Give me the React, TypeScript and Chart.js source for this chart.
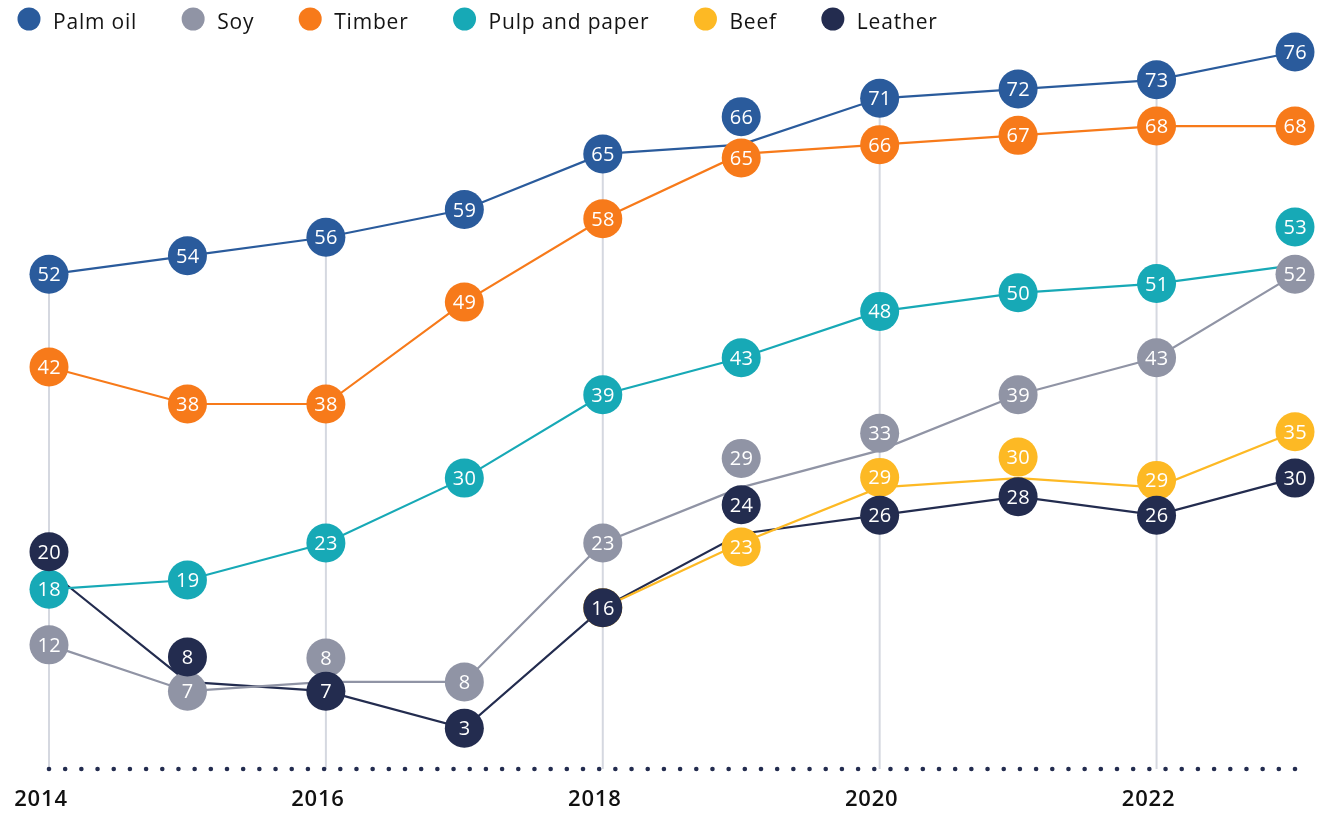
import React, { useEffect, useRef } from 'react';
import { Chart, registerables } from 'chart.js';

Chart.register(...registerables);

// ---------- data ----------
const years = ['2014', '2015', '2016', '2017', '2018', '2019', '2020', '2021', '2022', '2023'];
const yearTicks = ['2014', '2016', '2018', '2020', '2022'];
const seriesNames = ['Palm oil', 'Soy', 'Timber', 'Pulp and paper', 'Beef', 'Leather'];
const palmOil = [52, 54, 56, 59, 65, 66, 71, 72, 73, 76];
const soy = [12, 7, 8, 8, 23, 29, 33, 39, 43, 52];
const timber = [42, 38, 38, 49, 58, 65, 66, 67, 68, 68];
const pulpAndPaper = [18, 19, 23, 30, 39, 43, 48, 50, 51, 53];
const beef = [null, null, null, null, 16, 23, 29, 30, 29, 35];
const leather = [20, 8, 7, 3, 16, 24, 26, 28, 26, 30];

// ---------- styles ----------
const seriesColors = ['#2a5b9c', '#9094a5', '#f77a1a', '#17a9b6', '#fdb924', '#232c4f'];
// vertical pixel nudges for value bubbles that were moved off their point to avoid overlaps
// [seriesIndex, pointIndex, dy]
const bubbleNudges: [number, number, number][] = [
  [0, 5, -28],
  [1, 2, -24],
  [1, 5, -29],
  [1, 6, -17],
  [2, 5, 4],
  [3, 9, -38],
  [4, 5, 4],
  [4, 6, -10],
  [4, 7, -21],
  [4, 8, -7],
  [5, 0, -19],
  [5, 1, -25],
  [5, 5, -29],
];

const FONT = '"Open Sans", sans-serif';
const BUBBLE_R = 19.5;

const allSeries = [palmOil, soy, timber, pulpAndPaper, beef, leather];

function nudgeFor(di: number, i: number) {
  const f = bubbleNudges.find((n) => n[0] === di && n[1] === i);
  return f ? f[2] : 0;
}

const overlayPlugin = {
  id: 'overlay',
  beforeDraw(chart: any) {
    try {
      chart.ctx.letterSpacing = '0.8px';
    } catch (e) {}
  },
  beforeDatasetsDraw(chart: any) {
    const { ctx, chartArea, scales } = chart;
    const xs = scales.x;
    const ys = scales.y;
    ctx.save();
    // drop lines from highest value at labelled years
    ctx.strokeStyle = '#d5d8e0';
    ctx.lineWidth = 2;
    yearTicks.forEach((t) => {
      const i = years.indexOf(t);
      let max = -Infinity;
      chart.data.datasets.forEach((ds: any) => {
        const v = ds.data[i];
        if (v != null && v > max) max = v;
      });
      const px = xs.getPixelForValue(i);
      ctx.beginPath();
      ctx.moveTo(px, ys.getPixelForValue(max));
      ctx.lineTo(px, chartArea.bottom);
      ctx.stroke();
    });
    // dotted baseline
    const w = chartArea.right - chartArea.left;
    const n = Math.round(w / 16.2);
    ctx.fillStyle = '#232c4f';
    for (let k = 0; k <= n; k++) {
      ctx.beginPath();
      ctx.arc(chartArea.left + (k * w) / n, chartArea.bottom, 2.3, 0, Math.PI * 2);
      ctx.fill();
    }
    ctx.restore();
  },
  afterDatasetsDraw(chart: any) {
    const { ctx } = chart;
    ctx.save();
    ctx.font = `500 20px ${FONT}`;
    try {
      ctx.letterSpacing = '0.3px';
    } catch (e) {}
    ctx.textAlign = 'center';
    ctx.textBaseline = 'alphabetic';
    chart.data.datasets.forEach((ds: any, di: number) => {
      const meta = chart.getDatasetMeta(di);
      meta.data.forEach((pt: any, i: number) => {
        const v = ds.data[i];
        if (v == null) return;
        const cx = pt.x;
        const cy = pt.y + nudgeFor(di, i);
        ctx.fillStyle = seriesColors[di];
        ctx.beginPath();
        ctx.arc(cx, cy, BUBBLE_R, 0, Math.PI * 2);
        ctx.fill();
        ctx.fillStyle = '#ffffff';
        ctx.fillText(String(v), cx + 0.2, cy + 7.1);
      });
    });
    ctx.restore();
  },
  afterDraw(chart: any) {
    const { ctx } = chart;
    ctx.save();
    ctx.font = `400 21px ${FONT}`;
    try {
      ctx.letterSpacing = '0.8px';
    } catch (e) {}
    ctx.textAlign = 'left';
    ctx.textBaseline = 'alphabetic';
    let cx = 29;
    seriesNames.forEach((name, i) => {
      ctx.fillStyle = seriesColors[i];
      ctx.beginPath();
      ctx.arc(cx, 19, 11.5, 0, Math.PI * 2);
      ctx.fill();
      ctx.fillStyle = '#141414';
      const tx = cx + 24;
      ctx.fillText(name, tx, 29);
      cx = tx + ctx.measureText(name).width + 56;
    });
    ctx.restore();
  },
};

export default function App() {
  const ref = useRef<HTMLCanvasElement>(null);
  useEffect(() => {
    if (!ref.current) return;
    const chart = new Chart(ref.current, {
      type: 'line',
      data: {
        labels: years,
        datasets: allSeries.map((d, i) => ({
          label: seriesNames[i],
          data: d as any,
          borderColor: seriesColors[i],
          backgroundColor: seriesColors[i],
          borderWidth: 2.2,
          pointRadius: 0,
          pointHoverRadius: 0,
          tension: 0,
          spanGaps: false,
          clip: false as any,
        })),
      },
      options: {
        animation: false,
        responsive: false,
        devicePixelRatio: 1,
        events: [],
        layout: { padding: { top: 52, left: 49, right: 24, bottom: 0 } },
        plugins: { legend: { display: false }, tooltip: { enabled: false } },
        scales: {
          x: {
            type: 'category',
            offset: false,
            grid: { display: false, drawTicks: false },
            border: { display: false },
            afterFit: (s: any) => {
              s.height = 44;
            },
            ticks: {
              autoSkip: false,
              maxRotation: 0,
              padding: 18,
              labelOffset: -8,
              color: '#111111',
              font: { family: FONT, size: 22, weight: '600' as any },
              callback: (_v: any, idx: number) => (yearTicks.includes(years[idx]) ? years[idx] : ''),
            },
          },
          y: {
            display: false,
            min: -1.4,
            max: 76,
          },
        },
      },
      plugins: [overlayPlugin],
    });
    return () => chart.destroy();
  }, []);
  return (
    <div style={{ position: 'fixed', left: 0, top: 0, width: 1319, height: 813, background: '#ffffff' }}>
      <canvas ref={ref} width={1319} height={813} style={{ display: 'block', width: 1319, height: 813 }} />
    </div>
  );
}
